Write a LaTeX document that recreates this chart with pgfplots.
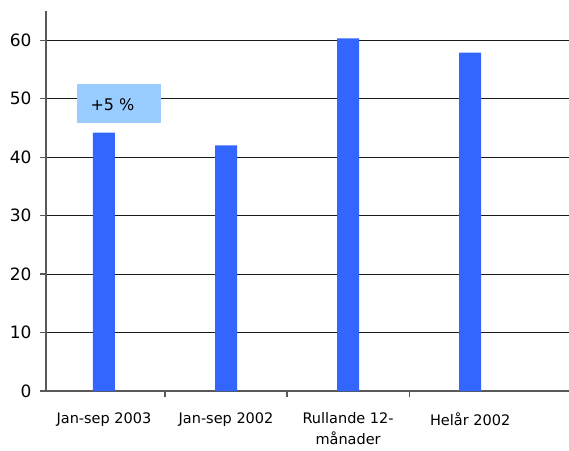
\documentclass[border=0pt]{standalone}
\usepackage{pgfplots}
\pgfplotsset{compat=1.18}
\usepackage{fontspec}
\setmainfont{DejaVu Sans}
\definecolor{barblue}{HTML}{3366FF}
\definecolor{boxblue}{HTML}{99CCFF}
\begin{document}
\begin{tikzpicture}
\useasboundingbox (-46pt,-59pt) rectangle (523pt,391pt);
\begin{axis}[
  at={(0pt,0pt)}, anchor=south west,
  scale only axis, width=523pt, height=380pt,
  xmin=-0.475, xmax=3.81, ymin=0, ymax=65,
  axis x line*=bottom, axis y line*=left,
  axis line style={-, draw=black!65, line width=1.2pt},
  ytick={0,10,...,60},
  ymajorgrids,
  major grid style={black!90, line width=1pt},
  tick align=outside,
  major tick length=6pt,
  tick style={draw=black!65, line width=1.2pt},
  xtick={0.5,1.5,2.5}, xticklabels={},
  extra x ticks={0,1,2,3},
  extra x tick labels={Jan-sep 2003,Jan-sep 2002,{Rullande 12-\\månader},Helår 2002},
  extra x tick style={major tick length=0pt, grid=none,
    xticklabel style={yshift=-18pt}},
  xticklabel style={align=center, font=\fontsize{14.5}{21}\selectfont},
  yticklabel style={font=\fontsize{17}{18}\selectfont, xshift=-5pt},
  /pgf/number format/assume math mode=true,
  clip=false,
]
\addplot[ybar, bar width=22pt, fill=barblue, draw=none]
  coordinates {(0,44.2) (1,42.0) (2,60.3) (3,57.9)};
\fill[boxblue] (axis cs:-0.217,45.9) rectangle (axis cs:0.471,52.5);
\node[font=\fontsize{16}{18}\selectfont, inner sep=0pt] at (axis cs:0.07,48.9) {+5 \%};
\end{axis}
\end{tikzpicture}
\end{document}
